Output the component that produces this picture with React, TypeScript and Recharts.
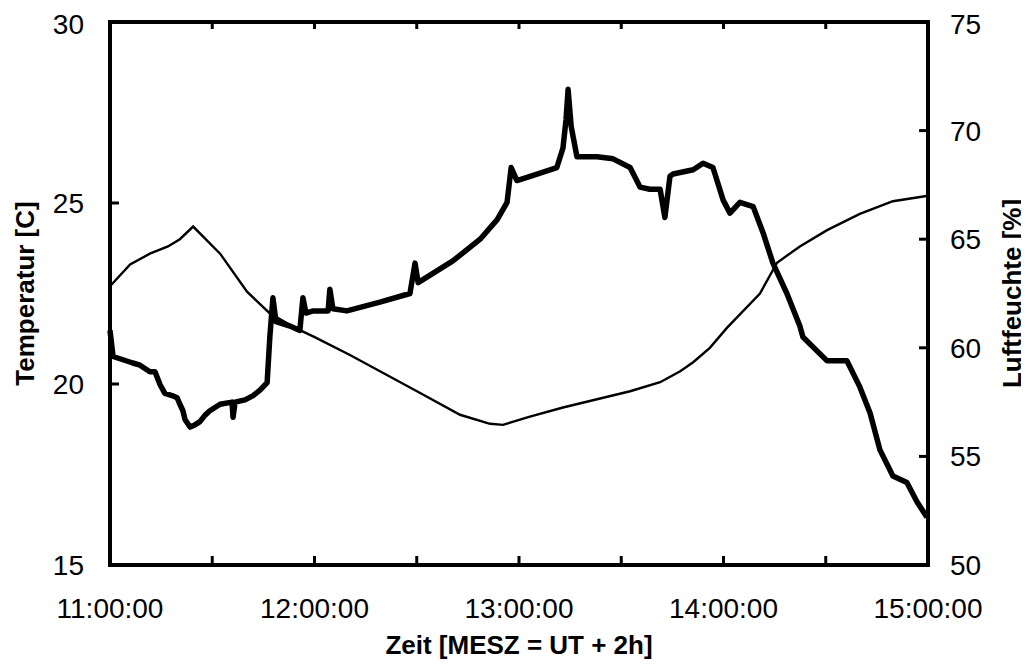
import React from 'react';
import { LineChart, Line, XAxis, YAxis } from 'recharts';

// minutes after 11:00:00
const tempTimes = [0, 5.9, 11.7, 17.0, 20.5, 24.4, 32.3, 40.2, 46.9, 54.3, 59.9, 70.4, 91.0, 102.7, 111.5, 115.3, 123.2, 132.9, 143.8, 152.6, 161.4, 167.3, 171.1, 176.0, 181.0, 190.7, 195.7, 202.4, 210.4, 220.0, 229.7, 240];
const tempValues = [22.7, 23.3, 23.6, 23.8, 24.0, 24.35, 23.6, 22.55, 21.95, 21.55, 21.3, 20.8, 19.75, 19.15, 18.9, 18.87, 19.1, 19.35, 19.6, 19.8, 20.05, 20.35, 20.6, 21.0, 21.55, 22.5, 23.35, 23.8, 24.25, 24.7, 25.05, 25.2];

const humTimes = [0, 0.9, 6.7, 8.8, 11.7, 13.2, 14.7, 16.1, 18.2, 19.7, 20.5, 21.4, 22.0, 23.5, 24.9, 26.4, 27.9, 29.3, 32.3, 35.8, 36.1, 36.7, 39.6, 42.0, 44.0, 46.1, 46.9, 47.8, 48.7, 52.8, 55.7, 56.6, 57.5, 59.6, 64.0, 64.5, 65.4, 69.5, 79.2, 88.0, 89.5, 90.4, 100.6, 108.6, 113.6, 116.5, 117.7, 119.4, 125.3, 131.1, 132.9, 133.8, 134.4, 135.3, 137.0, 142.9, 147.6, 152.6, 155.5, 158.4, 161.4, 162.8, 164.3, 165.2, 171.1, 174.0, 176.9, 179.9, 181.9, 184.8, 188.7, 191.6, 194.5, 198.6, 202.4, 203.3, 210.4, 216.2, 220.0, 223.0, 225.9, 229.7, 233.8, 236.8, 239.7];
const humValues = [60.8, 59.6, 59.3, 59.2, 58.9, 58.9, 58.3, 57.9, 57.8, 57.7, 57.4, 57.1, 56.7, 56.35, 56.45, 56.6, 56.9, 57.1, 57.4, 57.5, 56.8, 57.5, 57.6, 57.8, 58.05, 58.4, 60.5, 62.3, 61.2, 61.0, 60.8, 62.3, 61.6, 61.7, 61.7, 62.7, 61.8, 61.7, 62.1, 62.5, 63.9, 63.0, 64.0, 65.0, 65.9, 66.7, 68.3, 67.7, 68.0, 68.3, 69.2, 70.5, 71.9, 70.2, 68.8, 68.8, 68.7, 68.3, 67.4, 67.3, 67.3, 66.0, 67.9, 68.0, 68.2, 68.5, 68.3, 66.8, 66.2, 66.7, 66.5, 65.3, 63.9, 62.5, 61.0, 60.5, 59.4, 59.4, 58.2, 57.0, 55.3, 54.1, 53.8, 52.9, 52.2];

const xTicks = [0, 30, 60, 90, 120, 150, 180, 210, 240];
const tempTicks = [15, 20, 25, 30];
const humTicks = [50, 55, 60, 65, 70, 75];

const tempData = tempTimes.map((t, i) => ({ t, temp: tempValues[i] }));
const humData = humTimes.map((t, i) => ({ t, hum: humValues[i] }));

const FONT = '"Liberation Sans", Arial, sans-serif';
const axisLine = { stroke: '#000', strokeWidth: 4, strokeLinecap: 'square' as const };
const tickLine = { stroke: '#000', strokeWidth: 3 };
const tickFont = { fontSize: 28, fontFamily: FONT, fill: '#000' };

const timeLabel = (m: number) => (m % 60 === 0 ? `${11 + m / 60}:00:00` : '');

const VTitle = ({ viewBox, text, dx }: any) => {
  const cx = viewBox.x + dx;
  const cy = viewBox.y + viewBox.height / 2;
  return (
    <text x={cx} y={cy} dy="0.36em" transform={`rotate(-90, ${cx}, ${cy})`} textAnchor="middle"
      fontSize={26} fontWeight="bold" fontFamily={FONT} fill="#000">
      {text}
    </text>
  );
};

const XTitle = ({ viewBox }: any) => (
  <text x={viewBox.x + viewBox.width / 2} y={viewBox.y + 89} textAnchor="middle"
    fontSize={26} fontWeight="bold" fontFamily={FONT} fill="#000">
    Zeit [MESZ = UT + 2h]
  </text>
);

export default function App() {
  return (
    <LineChart width={1021} height={653} margin={{ top: 0, right: 0, bottom: 0, left: 0 }}>
      <XAxis xAxisId="top" orientation="top" type="number" dataKey="t" domain={[0, 240]} ticks={xTicks}
        height={14} tickSize={-7} tickMargin={0} tickLine={tickLine} tickFormatter={() => ''}
        axisLine={axisLine} />
      <XAxis xAxisId="bottom" type="number" dataKey="t" domain={[0, 240]} ticks={xTicks} height={96}
        tickSize={-9} tickMargin={42} tickLine={tickLine} tick={tickFont} tickFormatter={timeLabel}
        axisLine={axisLine} label={{ content: <XTitle /> }} />
      <YAxis yAxisId="left" type="number" domain={[15, 30]} ticks={tempTicks} width={102}
        tickSize={-9} tickMargin={35} tickLine={tickLine} tick={tickFont} axisLine={axisLine}
        label={{ content: <VTitle text="Temperatur [C]" dx={17} /> }} />
      <YAxis yAxisId="right" orientation="right" type="number" domain={[50, 75]} ticks={humTicks} width={101}
        tickSize={-9} tickMargin={31} tickLine={tickLine} tick={tickFont} axisLine={axisLine}
        label={{ content: <VTitle text="Luftfeuchte [%]" dx={84} /> }} />
      <Line xAxisId="top" yAxisId="left" data={tempData} dataKey="temp" type="linear" stroke="#000"
        strokeWidth={2.4} dot={false} isAnimationActive={false} />
      <Line xAxisId="bottom" yAxisId="right" data={humData} dataKey="hum" type="linear" stroke="#000"
        strokeWidth={5.5} dot={false} isAnimationActive={false} strokeLinejoin="round" />
    </LineChart>
  );
}
